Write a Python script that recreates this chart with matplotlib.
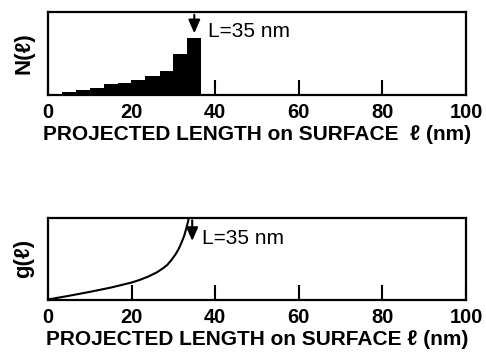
import matplotlib
matplotlib.use("Agg")
import matplotlib.pyplot as plt

plt.rcParams['font.family'] = ['Liberation Sans', 'DejaVu Sans']
plt.rcParams['font.weight'] = 'bold'

# histogram N(l): bin edges (nm) and relative counts
bin_edges = [0, 3.3, 6.7, 10, 13.3, 16.7, 20, 23.3, 26.7, 30, 33.3, 36.7]
counts = [0.015, 0.035, 0.055, 0.085, 0.13, 0.15, 0.18, 0.23, 0.29, 0.49, 0.69]

# distribution g(l)
g_len = [0, 5, 10, 15, 20, 22, 24, 26, 27.5, 28.5, 29.5, 30.5, 31.3, 32, 32.6, 33.1, 33.5, 33.8, 34.0]
g_val = [0, 0.045, 0.093, 0.145, 0.207, 0.24, 0.28, 0.33, 0.38, 0.42, 0.48, 0.55, 0.62, 0.70, 0.78, 0.87, 0.95, 1.02, 1.08]

L_mean = 35
xticks = [0, 20, 40, 60, 80, 100]
xlabel_top = "PROJECTED LENGTH on SURFACE  \u2113 (nm)"
xlabel_bot = "PROJECTED LENGTH on SURFACE \u2113 (nm)"

fig = plt.figure(figsize=(4.86, 3.55), dpi=100)
ax1 = fig.add_axes([48 / 486, 1 - 95 / 355, 418 / 486, 83 / 355])
ax2 = fig.add_axes([48 / 486, 1 - 299.5 / 355, 418 / 486, 82 / 355])

widths = [b - a for a, b in zip(bin_edges[:-1], bin_edges[1:])]
ax1.bar(bin_edges[:-1], counts, width=widths, align='edge', color='black', linewidth=0)
ax2.plot(g_len, g_val, color='black', linewidth=1.5)

for ax, lab, xl in ((ax1, "N(\u2113)", xlabel_top), (ax2, "g(\u2113)", xlabel_bot)):
    ax.set_xlim(0, 100)
    ax.set_ylim(0, 1)
    ax.set_xticks(xticks)
    ax.set_yticks([])
    ax.tick_params(axis='x', direction='in', length=11, width=1.5, pad=6, labelsize=14.5)
    for s in ax.spines.values():
        s.set_linewidth(1.6)
    ax.set_xlabel(xl, fontsize=15, fontweight='bold', labelpad=2)
    ax.set_ylabel(lab, fontsize=16, fontweight='bold', labelpad=10)
    for t in ax.get_xticklabels():
        t.set_fontweight('bold')

arrow = dict(arrowstyle='-|>,head_length=0.8,head_width=0.35', color='black', lw=1.5)
ax1.annotate("", xy=(L_mean, 0.71), xytext=(L_mean, 1.0), arrowprops=arrow)
ax1.text(38.3, 0.77, "L=35 nm", fontsize=15, fontweight='normal', va='center', ha='left')

ax2.annotate("", xy=(34.5, 0.68), xytext=(34.5, 1.0), arrowprops=arrow)
ax2.text(36.8, 0.75, "L=35 nm", fontsize=15, fontweight='normal', va='center', ha='left')

fig.savefig("out.png", dpi=100)
